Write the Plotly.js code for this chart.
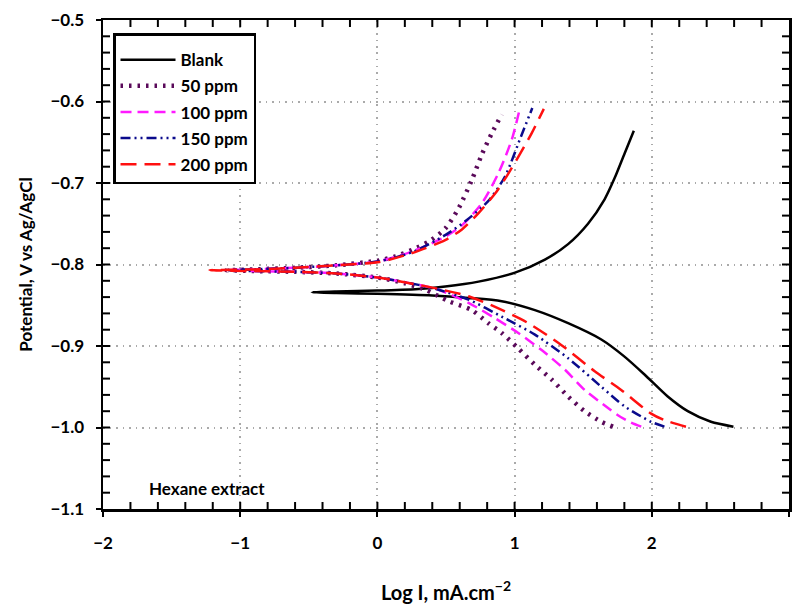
<!DOCTYPE html>
<html>
<head>
<meta charset="utf-8">
<script src="https://cdn.plot.ly/plotly-3.0.1.min.js"></script>
<style>html,body{margin:0;padding:0;background:#fff;}#chart{width:793px;height:606px;}</style>
</head>
<body>
<div id="chart"></div>
<script>
// Series names
const seriesNames = ["Blank", "50 ppm", "100 ppm", "150 ppm", "200 ppm"];

// Blank (cathodic branch from high current to Ecorr, then anodic branch)
const blankX = [2.595, 2.431, 2.262, 2.116, 1.947, 1.801, 1.632, 1.39, 1.148, 0.906, 0.664, 0.4, 0.0, -0.3, -0.478,
                -0.3, 0.0, 0.3, 0.494, 0.737, 1.003, 1.221, 1.39, 1.535, 1.656, 1.729, 1.801, 1.869];
const blankY = [-0.999, -0.993, -0.980, -0.962, -0.935, -0.913, -0.892, -0.872, -0.856, -0.845, -0.841, -0.838, -0.836, -0.835, -0.834,
                -0.833, -0.832, -0.830, -0.827, -0.821, -0.810, -0.794, -0.775, -0.750, -0.720, -0.694, -0.664, -0.636];

// 50 ppm
const p50X = [1.717, 1.632, 1.511, 1.390, 1.269, 1.148, 1.027, 0.906, 0.809, 0.688, 0.519, 0.35, 0.2, 0.0, -0.3, -0.6, -0.9, -1.1,
              -0.9, -0.6, -0.3, 0.011, 0.132, 0.253, 0.374, 0.494, 0.592, 0.689, 0.761, 0.834, 0.906];
const p50Y = [-0.999, -0.993, -0.980, -0.962, -0.941, -0.923, -0.903, -0.884, -0.872, -0.856, -0.845, -0.831, -0.823, -0.816, -0.811, -0.809, -0.808, -0.807,
              -0.806, -0.804, -0.801, -0.795, -0.790, -0.782, -0.772, -0.756, -0.731, -0.696, -0.665, -0.639, -0.616];

// 100 ppm
const p100X = [1.923, 1.85, 1.753, 1.681, 1.511, 1.366, 1.197, 1.027, 0.858, 0.664, 0.446, 0.3, 0.0, -0.3, -0.6, -0.9, -1.08,
               -0.9, -0.6, -0.3, 0.011, 0.253, 0.494, 0.616, 0.761, 0.882, 0.979, 1.039];
const p100Y = [-0.999, -0.994, -0.985, -0.976, -0.954, -0.929, -0.905, -0.884, -0.866, -0.847, -0.831, -0.825, -0.816, -0.811, -0.809, -0.808, -0.807,
               -0.806, -0.804, -0.801, -0.796, -0.784, -0.766, -0.752, -0.725, -0.688, -0.647, -0.608];

// 150 ppm
const p150X = [2.092, 1.995, 1.801, 1.632, 1.390, 1.148, 0.906, 0.664, 0.446, 0.3, 0.0, -0.3, -0.6, -0.9, -1.1,
               -0.9, -0.6, -0.3, 0.011, 0.253, 0.494, 0.640, 0.809, 0.930, 1.051, 1.129];
const p150Y = [-0.999, -0.993, -0.974, -0.950, -0.915, -0.886, -0.864, -0.843, -0.831, -0.825, -0.816, -0.811, -0.809, -0.808, -0.807,
               -0.806, -0.804, -0.801, -0.796, -0.785, -0.764, -0.747, -0.722, -0.692, -0.641, -0.608];

// 200 ppm
const p200X = [2.249, 2.092, 1.995, 1.777, 1.584, 1.342, 1.100, 0.858, 0.664, 0.446, 0.3, 0.0, -0.3, -0.6, -0.9, -1.223,
               -0.9, -0.6, -0.3, 0.011, 0.253, 0.494, 0.616, 0.737, 0.858, 0.930, 1.027, 1.124, 1.213];
const p200Y = [-0.999, -0.991, -0.983, -0.954, -0.931, -0.899, -0.872, -0.852, -0.839, -0.830, -0.825, -0.816, -0.811, -0.809, -0.808, -0.807,
               -0.806, -0.804, -0.801, -0.797, -0.786, -0.770, -0.757, -0.737, -0.713, -0.695, -0.668, -0.639, -0.609];

const seriesX = [blankX, p50X, p100X, p150X, p200X];
const seriesY = [blankY, p50Y, p100Y, p150Y, p200Y];
const colors = ["#000000", "#5a0a5a", "#ff1aff", "#0a0a8c", "#ff1010"];
const dashes = ["solid", "2.5px,6px", "11px,6px", "10px,4px,2px,4px,2px,4px", "16px,8px"];
const widths = [2.5, 4.5, 2.5, 2.5, 2.5];

const FONT = "Lato, 'Open Sans', sans-serif";

const traces = seriesNames.map((n, i) => ({
  x: seriesX[i], y: seriesY[i], name: n, type: "scatter", mode: "lines",
  legendgroup: "g" + i,
  line: {color: colors[i], dash: dashes[i], width: widths[i], shape: "spline", smoothing: 0.7}
}));

const tickFont = {family: FONT, size: 17, color: "#000", weight: 700};
const xr = [-2, 3], yr = [-1.1, -0.5];

// inward tick marks on the four frame edges, built in paper coordinates
const shapes = [];
const tk = {type: "line", line: {color: "#000", width: 2}, layer: "above"};
const xFrac = (v) => (v - xr[0]) / (xr[1] - xr[0]);
const yFrac = (v) => (v - yr[0]) / (yr[1] - yr[0]);
const txLen = 7 / 489, tyLen = 7 / 686; // tick length in paper fractions
for (let i = 1; i < 25; i++) {
  const f = xFrac(xr[0] + i * 0.2);
  shapes.push(Object.assign({}, tk, {xref: "paper", yref: "paper", x0: f, x1: f, y0: 0, y1: txLen}));
  shapes.push(Object.assign({}, tk, {xref: "paper", yref: "paper", x0: f, x1: f, y0: 1, y1: 1 - txLen}));
}
for (let i = 1; i < 30; i++) {
  const f = yFrac(yr[0] + i * 0.02);
  shapes.push(Object.assign({}, tk, {xref: "paper", yref: "paper", y0: f, y1: f, x0: 0, x1: tyLen}));
  shapes.push(Object.assign({}, tk, {xref: "paper", yref: "paper", y0: f, y1: f, x0: 1, x1: 1 - tyLen}));
}

const layout = {
  width: 793, height: 606,
  margin: {l: 103, r: 4, t: 20, b: 97},
  paper_bgcolor: "#fff", plot_bgcolor: "#fff",
  showlegend: true,
  legend: {
    x: 0.0146, y: 0.973, xanchor: "left", yanchor: "top",
    bordercolor: "#000", borderwidth: 2.5, bgcolor: "#fff",
    font: {family: FONT, size: 17, color: "#000", weight: 700},
    title: {text: " ", font: {family: FONT, size: 5}},
    traceorder: "grouped", tracegroupgap: 1, itemwidth: 55
  },
  xaxis: {
    range: xr, tickmode: "linear", tick0: -2, dtick: 1,
    ticks: "outside", ticklen: 5, tickwidth: 2, tickcolor: "#000",
    tickfont: tickFont, ticklabelstandoff: 12, mirror: true,
    showline: true, linecolor: "#000", linewidth: 2.5,
    showgrid: true, gridcolor: "#aaaaaa", griddash: "1.5px,5px", gridwidth: 2,
    zeroline: false,
    title: {text: "Log I, mA.cm<sup>−2</sup>", font: {family: FONT, size: 20, color: "#000", weight: 700}, standoff: 34}
  },
  yaxis: {
    range: yr, tickmode: "linear", tick0: -1.1, dtick: 0.1, tickformat: ".1f",
    ticks: "outside", ticklen: 5, tickwidth: 2, tickcolor: "#000",
    tickfont: tickFont, ticklabelstandoff: 8, mirror: true,
    showline: true, linecolor: "#000", linewidth: 2.5,
    showgrid: true, gridcolor: "#aaaaaa", griddash: "1.5px,5px", gridwidth: 2,
    zeroline: false,
    title: {text: "Potential, V vs Ag/AgCl", font: {family: FONT, size: 17, color: "#000", weight: 700}, standoff: 14}
  },
  shapes: shapes,
  annotations: [{
    x: -1.68, y: -1.075, xref: "x", yref: "y", xanchor: "left", yanchor: "middle",
    text: "Hexane extract", showarrow: false,
    font: {family: FONT, size: 17, color: "#000", weight: 700}
  }]
};

Plotly.newPlot("chart", traces, layout, {displayModeBar: false, staticPlot: true});
</script>
</body>
</html>
